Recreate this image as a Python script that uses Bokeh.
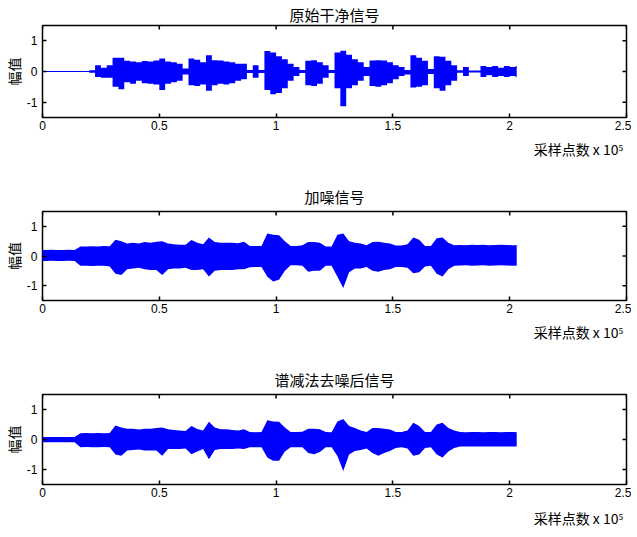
from bokeh.plotting import figure
from bokeh.layouts import column
from bokeh.models import FixedTicker, LinearAxis, Range1d, Title
from bokeh.embed import file_html
from bokeh.resources import INLINE

# ---------------- data ----------------
SAMPLE_STEP = 2500          # envelope resolution, samples
SIGNAL_END = 203000         # last sample of the signals

X_TICKS = [0, 50000, 100000, 150000, 200000, 250000]
X_TICK_LABELS = ["0", "0.5", "1", "1.5", "2", "2.5"]
Y_TICKS = [-1, 0, 1]
Y_TICK_LABELS = ["-1", "0", "1"]

TITLES = ["原始干净信号", "加噪信号", "谱减法去噪后信号"]
XLABEL = "采样点数  x 10\u2075"
YLABEL = "幅值"

# clean signal envelope (upper / lower), one value per 2500 samples
CLEAN_UPPER = [0.02, 0.02, 0.02, 0.02, 0.02, 0.02, 0.02, 0.02, 0.04, 0.2, 0.12, 0.2,
               0.45, 0.45, 0.35, 0.33, 0.3, 0.34, 0.33, 0.36, 0.42, 0.33, 0.3, 0.25, 0.1, 0.42,
               0.38, 0.3, 0.53, 0.37, 0.36, 0.33, 0.3, 0.25, 0.25, 0.05, 0.2, 0.05, 0.67, 0.62,
               0.5, 0.4, 0.25, 0.15, 0.05, 0.35, 0.37, 0.3, 0.2, 0.05, 0.62, 0.68, 0.55, 0.4,
               0.3, 0.15, 0.36, 0.37, 0.36, 0.3, 0.2, 0.15, 0.05, 0.53, 0.45, 0.35, 0.08, 0.5,
               0.48, 0.35, 0.2, 0.04, 0.15, 0.03, 0.03, 0.18, 0.15, 0.18, 0.12, 0.18, 0.15, 0.18]
CLEAN_LOWER = [-0.02, -0.02, -0.02, -0.02, -0.02, -0.02, -0.02, -0.02, -0.04, -0.18, -0.2, -0.2,
               -0.5, -0.58, -0.35, -0.4, -0.3, -0.38, -0.4, -0.42, -0.6, -0.4, -0.35, -0.3, -0.1, -0.45,
               -0.47, -0.42, -0.63, -0.45, -0.4, -0.42, -0.38, -0.3, -0.25, -0.05, -0.2, -0.05, -0.6, -0.74,
               -0.7, -0.55, -0.3, -0.15, -0.05, -0.45, -0.47, -0.4, -0.2, -0.05, -0.55, -1.13, -0.55, -0.45,
               -0.3, -0.15, -0.47, -0.5, -0.45, -0.38, -0.25, -0.15, -0.1, -0.52, -0.5, -0.45, -0.08, -0.55,
               -0.63, -0.45, -0.3, -0.04, -0.15, -0.03, -0.03, -0.18, -0.12, -0.18, -0.15, -0.18, -0.15, -0.18]

# noisy signal envelope
NOISY_UPPER = [0.2, 0.21, 0.2, 0.2, 0.21, 0.2, 0.32, 0.32, 0.33, 0.32, 0.34, 0.33,
               0.55, 0.5, 0.42, 0.45, 0.42, 0.47, 0.45, 0.48, 0.5, 0.42, 0.4, 0.38, 0.38, 0.54,
               0.45, 0.4, 0.62, 0.47, 0.45, 0.45, 0.45, 0.43, 0.48, 0.34, 0.34, 0.34, 0.76, 0.72,
               0.7, 0.5, 0.34, 0.34, 0.36, 0.47, 0.47, 0.45, 0.32, 0.32, 0.72, 0.76, 0.5, 0.45,
               0.42, 0.36, 0.47, 0.48, 0.45, 0.42, 0.35, 0.35, 0.4, 0.62, 0.55, 0.34, 0.34, 0.6,
               0.62, 0.45, 0.36, 0.37, 0.36, 0.38, 0.37, 0.38, 0.36, 0.37, 0.38, 0.37, 0.36, 0.37]
NOISY_LOWER = [-0.17, -0.16, -0.17, -0.17, -0.16, -0.17, -0.33, -0.33, -0.34, -0.33, -0.33, -0.35,
               -0.6, -0.64, -0.45, -0.42, -0.4, -0.45, -0.47, -0.47, -0.64, -0.45, -0.42, -0.42, -0.4, -0.47,
               -0.47, -0.45, -0.69, -0.5, -0.47, -0.47, -0.47, -0.45, -0.45, -0.38, -0.37, -0.37, -0.7, -0.86,
               -0.8, -0.5, -0.31, -0.31, -0.33, -0.53, -0.5, -0.5, -0.33, -0.33, -0.7, -1.08, -0.55, -0.42,
               -0.42, -0.37, -0.5, -0.53, -0.47, -0.45, -0.37, -0.37, -0.4, -0.58, -0.55, -0.35, -0.33, -0.6,
               -0.69, -0.45, -0.33, -0.32, -0.31, -0.33, -0.32, -0.31, -0.33, -0.32, -0.31, -0.32, -0.33, -0.32]

# denoised (spectral subtraction) signal envelope
DENOISED_UPPER = [0.08, 0.08, 0.08, 0.08, 0.08, 0.08, 0.21, 0.22, 0.21, 0.22, 0.21, 0.22,
                  0.47, 0.4, 0.36, 0.36, 0.33, 0.36, 0.36, 0.38, 0.4, 0.34, 0.32, 0.3, 0.28, 0.45,
                  0.35, 0.3, 0.59, 0.4, 0.34, 0.34, 0.32, 0.3, 0.34, 0.25, 0.24, 0.25, 0.64, 0.6,
                  0.59, 0.4, 0.25, 0.25, 0.26, 0.36, 0.36, 0.34, 0.25, 0.24, 0.6, 0.68, 0.45, 0.38,
                  0.3, 0.25, 0.38, 0.38, 0.36, 0.33, 0.25, 0.25, 0.3, 0.56, 0.45, 0.25, 0.25, 0.5,
                  0.56, 0.38, 0.3, 0.25, 0.24, 0.25, 0.25, 0.24, 0.25, 0.25, 0.24, 0.25, 0.25, 0.24]
DENOISED_LOWER = [-0.09, -0.09, -0.09, -0.09, -0.09, -0.09, -0.26, -0.25, -0.26, -0.26, -0.25, -0.26,
                  -0.5, -0.54, -0.37, -0.35, -0.33, -0.37, -0.37, -0.37, -0.54, -0.32, -0.32, -0.32, -0.3, -0.49,
                  -0.4, -0.32, -0.66, -0.35, -0.32, -0.32, -0.32, -0.3, -0.32, -0.26, -0.26, -0.26, -0.6, -0.71,
                  -0.71, -0.4, -0.26, -0.26, -0.26, -0.45, -0.49, -0.42, -0.26, -0.26, -0.55, -1.05, -0.5, -0.38,
                  -0.35, -0.3, -0.45, -0.54, -0.45, -0.38, -0.28, -0.26, -0.3, -0.54, -0.5, -0.28, -0.26, -0.5,
                  -0.6, -0.4, -0.28, -0.23, -0.23, -0.23, -0.23, -0.23, -0.23, -0.23, -0.23, -0.23, -0.23, -0.23]

CJK_FONT = "Noto Sans CJK SC"
NUM_FONT = "Liberation Sans"
WAVE_COLOR = "#0000FF"
FRAME_W = 584
TICK_PX = 4
X_MIN, X_MAX = 0, 250000
Y_MIN, Y_MAX = -1.5, 1.5


def style_axis(axis, ticks, labels, standoff):
    axis.ticker = FixedTicker(ticks=ticks)
    axis.major_label_overrides = {t: l for t, l in zip(ticks, labels)}
    axis.major_tick_in = TICK_PX
    axis.major_tick_out = 0
    axis.minor_tick_in = 0
    axis.minor_tick_out = 0
    axis.major_tick_line_color = "black"
    axis.major_tick_line_width = 1.5
    axis.axis_line_color = None
    axis.major_label_text_font = NUM_FONT
    axis.major_label_text_color = "black"
    axis.major_label_text_font_size = "12px"
    axis.major_label_standoff = standoff


def make_panel(title, upper, lower, border_top, frame_h, border_bottom, stepped,
               title_standoff, xlabel_standoff):
    p = figure(frame_width=FRAME_W, frame_height=frame_h,
               x_range=Range1d(X_MIN, X_MAX), y_range=Range1d(Y_MIN, Y_MAX),
               x_axis_type=None, y_axis_type=None,
               output_backend="svg", toolbar_location=None,
               min_border_left=41, min_border_right=5,
               min_border_top=border_top, min_border_bottom=border_bottom,
               background_fill_color="white", border_fill_color="white")
    p.grid.visible = False
    p.outline_line_color = "black"
    p.outline_line_width = 1.5
    p.outline_line_alpha = 1.0

    if stepped:
        xs = [SAMPLE_STEP * i for i in range(len(upper))] + [SIGNAL_END]
        y_hi = list(upper) + [upper[-1]]
        y_lo = list(lower) + [lower[-1]]
        p.varea_step(x=xs, y1=y_lo, y2=y_hi, step_mode="after",
                     fill_color=WAVE_COLOR, fill_alpha=1.0)
    else:
        xs = [0] + [SAMPLE_STEP * i + SAMPLE_STEP / 2 for i in range(len(upper))] + [SIGNAL_END]
        y_hi = [upper[0]] + list(upper) + [upper[-1]]
        y_lo = [lower[0]] + list(lower) + [lower[-1]]
        p.varea(x=xs, y1=y_lo, y2=y_hi, fill_color=WAVE_COLOR, fill_alpha=1.0)

    # inward ticks on the top and right edges (MATLAB "box on")
    ty = (Y_MAX - Y_MIN) * TICK_PX / frame_h
    tx = (X_MAX - X_MIN) * TICK_PX / FRAME_W
    p.segment(x0=X_TICKS, x1=X_TICKS, y0=[Y_MAX] * len(X_TICKS), y1=[Y_MAX - ty] * len(X_TICKS),
              line_color="black", line_width=1.5)
    p.segment(x0=[X_MAX] * len(Y_TICKS), x1=[X_MAX - tx] * len(Y_TICKS), y0=Y_TICKS, y1=Y_TICKS,
              line_color="black", line_width=1.5)

    bottom = LinearAxis()
    style_axis(bottom, X_TICKS, X_TICK_LABELS, 3)
    p.add_layout(bottom, "below")
    left = LinearAxis()
    style_axis(left, Y_TICKS, Y_TICK_LABELS, 5)
    left.axis_label = YLABEL
    left.axis_label_text_font = CJK_FONT
    left.axis_label_text_font_size = "14px"
    left.axis_label_text_font_style = "normal"
    left.axis_label_text_color = "black"
    left.axis_label_standoff = 0
    p.add_layout(left, "left")

    p.title.text = title
    p.title.align = "center"
    p.title.text_font = CJK_FONT
    p.title.text_font_size = "15px"
    p.title.text_font_style = "normal"
    p.title.text_color = "black"
    p.title.standoff = title_standoff

    p.add_layout(Title(text=XLABEL, align="right", text_font=CJK_FONT,
                       text_font_size="14px", text_font_style="normal",
                       text_color="black", standoff=xlabel_standoff), "below")
    return p


p1 = make_panel(TITLES[0], CLEAN_UPPER, CLEAN_LOWER, 25, 92, 54, True, 2, 8)
p2 = make_panel(TITLES[1], NOISY_UPPER, NOISY_LOWER, 40, 89, 54, False, 9, 8)
p3 = make_panel(TITLES[2], DENOISED_UPPER, DENOISED_LOWER, 40, 90, 50, False, 9, 12)

layout = column(p1, p2, p3)

with open("out.html", "w") as f:
    f.write(file_html(layout, INLINE))
